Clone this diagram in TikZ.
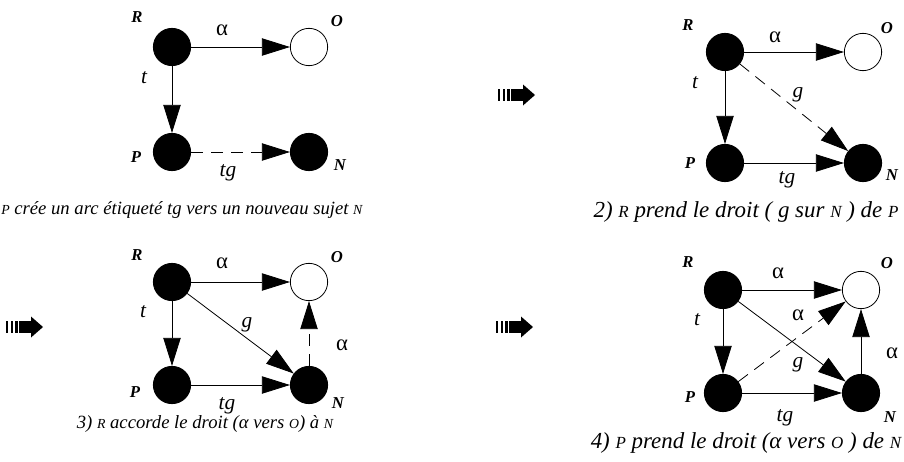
\documentclass[tikz,border=0pt]{standalone}
\usepackage{fontspec}
\setmainfont{Liberation Serif}
\usetikzlibrary{arrows.meta}
\newcommand{\sm}[1]{{\fontsize{0.74\dimexpr\csname f@size\endcsname pt\relax}{10}\selectfont #1}}
\begin{document}
\begin{tikzpicture}[x=0.75pt,y=-0.75pt,
 full/.style={circle,draw=black,fill=black,line width=0.6pt,minimum size=28pt,inner sep=0pt},
 empty/.style={circle,draw=black,fill=white,line width=0.6pt,minimum size=28pt,inner sep=0pt},
 edge/.style={line width=0.6pt,-{Triangle[length=21pt,width=13pt]}},
 dashedge/.style={edge,dash pattern=on 9pt off 6pt},
 lab/.style={font=\itshape\bfseries\fontsize{12.5}{14}\selectfont,inner sep=0pt},
 elab/.style={font=\itshape\fontsize{16}{18}\selectfont,inner sep=0pt},
 alab/.style={font=\fontsize{17}{19}\selectfont,inner sep=0pt},
 captext/.style={font=\itshape\fontsize{14}{16}\selectfont,inner sep=0pt},
 bigcaptext/.style={font=\itshape\fontsize{17.2}{19}\selectfont,inner sep=0pt},
 bigarrow/.pic={
   \fill (-17,-6) rectangle (-15,6);
   \fill (-12,-6) rectangle (-10,6);
   \fill (-8,-6) rectangle (-5,6);
   \fill (-4,-6) rectangle (8,6);
   \fill (8,-10.5) -- (20,0) -- (8,10.5) -- cycle;
 }]
\useasboundingbox (0,0) rectangle (904,461);

% ---------- panel 1 ----------
\node[full]  (r1) at (172,47) {};
\node[empty] (o1) at (309,47) {};
\node[full]  (p1) at (172,152) {};
\node[full]  (n1) at (309,152) {};
\draw[edge] (r1) -- (o1);
\draw[edge] (r1) -- (p1);
\draw[dashedge] (p1) -- (n1);
\node[lab] (lr1) at (137,17) {R};
\node[lab] (lo1) at (337,21) {O};
\node[lab] (lp1) at (136,157) {P};
\node[lab] (ln1) at (340,165) {N};
\node[alab] (la1) at (222,30) {α};
\node[elab] (lt1) at (144,78) {t};
\node[elab] (ltg1) at (228,173) {tg};
\node[captext,anchor=west] (c1) at (1,210) {\sm{P} crée un arc étiqueté tg vers un nouveau sujet \sm{N}};

% ---------- panel 2 ----------
\pic (a2) at (515,95) {bigarrow};
\node[full]  (r2) at (725,52) {};
\node[empty] (o2) at (863,52) {};
\node[full]  (p2) at (725,163) {};
\node[full]  (n2) at (863,163) {};
\draw[edge] (r2) -- (o2);
\draw[edge] (r2) -- (p2);
\draw[dashedge] (r2) -- (n2);
\draw[edge] (p2) -- (n2);
\node[lab] (lr2) at (688,25) {R};
\node[lab] (lo2) at (887,28) {O};
\node[lab] (lp2) at (690,163) {P};
\node[lab] (ln2) at (892,175) {N};
\node[alab] (la2) at (775,37) {α};
\node[elab] (lt2) at (695,83) {t};
\node[elab] (lg2) at (798,95) {g};
\node[elab] (ltg2) at (787,180) {tg};
\node[bigcaptext] (c2) at (746,212) {2) \sm{R} prend le droit ( g sur \sm{N} ) de \sm{P}};

% ---------- panel 3 ----------
\pic (a3) at (23,327) {bigarrow};
\node[full]  (r3) at (172,282) {};
\node[empty] (o3) at (309,282) {};
\node[full]  (p3) at (172,385) {};
\node[full]  (n3) at (309,385) {};
\draw[edge] (r3) -- (o3);
\draw[edge] (r3) -- (p3);
\draw[edge] (r3) -- (n3);
\draw[edge] (p3) -- (n3);
\draw[dashedge] (n3) -- (o3);
\node[lab] (lr3) at (137,255) {R};
\node[lab] (lo3) at (337,257) {O};
\node[lab] (lp3) at (135,392) {P};
\node[lab] (ln3) at (338,403) {N};
\node[alab] (la3) at (222,263) {α};
\node[alab] (la3b) at (342,345) {α};
\node[elab] (lt3) at (143,312) {t};
\node[elab] (lg3) at (247,325) {g};
\node[elab] (ltg3) at (227,406) {tg};
\node[captext] (c3) at (205,424) {3) \sm{R} accorde le droit (α vers \sm{O}) à \sm{N}};

% ---------- panel 4 ----------
\pic (a4) at (513,327) {bigarrow};
\node[full]  (r4) at (723,290) {};
\node[empty] (o4) at (861,290) {};
\node[full]  (p4) at (723,393) {};
\node[full]  (n4) at (861,393) {};
\draw[edge] (r4) -- (o4);
\draw[edge] (r4) -- (p4);
\draw[edge] (r4) -- (n4);
\draw[edge] (p4) -- (n4);
\draw[edge] (n4) -- (o4);
\draw[dashedge] (p4) -- (o4);
\node[lab] (lr4) at (688,262) {R};
\node[lab] (lo4) at (887,263) {O};
\node[lab] (lp4) at (690,397) {P};
\node[lab] (ln4) at (890,417) {N};
\node[alab] (la4) at (778,273) {α};
\node[alab] (la4b) at (798,315) {α};
\node[alab] (la4c) at (892,353) {α};
\node[elab] (lt4) at (697,320) {t};
\node[elab] (lg4) at (798,365) {g};
\node[elab] (ltg4) at (785,418) {tg};
\node[bigcaptext] (c4) at (746,443) {4) \sm{P} prend le droit (α vers \sm{O} ) de \sm{N}};
\end{tikzpicture}
\end{document}
